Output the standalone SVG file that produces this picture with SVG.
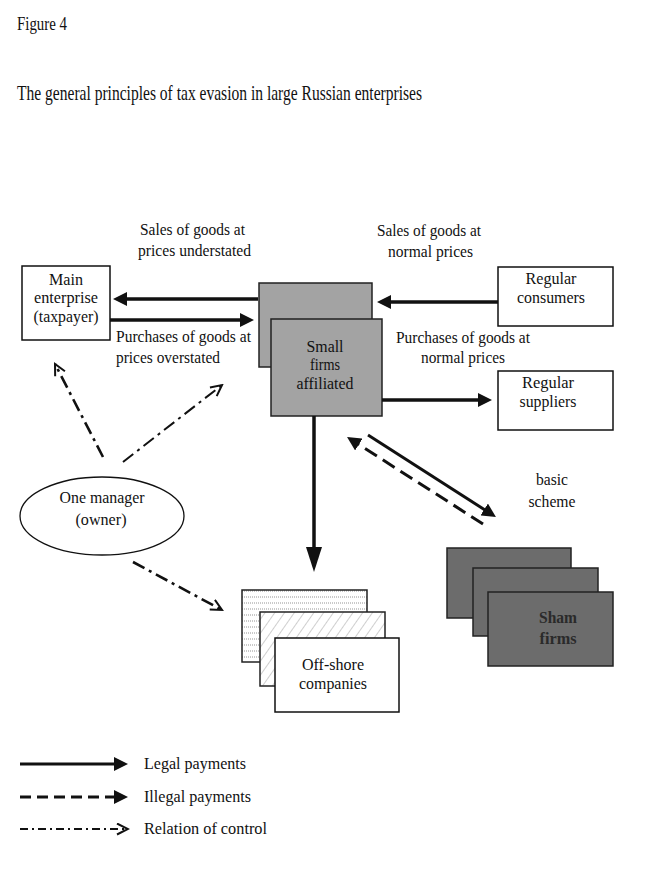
<svg xmlns="http://www.w3.org/2000/svg" width="662" height="873" viewBox="0 0 662 873">
<style>
text{font-family:"Liberation Serif","Times New Roman",serif;font-size:17px;fill:#111}
.c{text-anchor:middle}
.box{fill:#fff;stroke:#111;stroke-width:1.5}
.gray{fill:#a3a3a3;stroke:#222;stroke-width:1.5}
.dark{fill:#6c6c6c;stroke:#222;stroke-width:1.5}
.solid{stroke:#111;stroke-width:3.5;fill:none}
.dash{stroke:#111;stroke-width:3.5;fill:none;stroke-dasharray:14 7}
.dd{stroke:#111;stroke-width:2.6;fill:none;stroke-dasharray:13 5 3 5}
</style>
<defs>
<marker id="arr" markerUnits="userSpaceOnUse" markerWidth="14" markerHeight="14" refX="1" refY="7" orient="auto"><path d="M0,0 L14,7 L0,14 z" fill="#111"/></marker>
<marker id="arrBig" markerUnits="userSpaceOnUse" markerWidth="26" markerHeight="16" refX="1" refY="8" orient="auto"><path d="M0,0 L25,8 L0,16 z" fill="#111"/></marker>
<marker id="open" markerUnits="userSpaceOnUse" markerWidth="14" markerHeight="14" refX="12" refY="6.5" orient="auto"><path d="M1,1 L12,6.5 L1,12" fill="none" stroke="#111" stroke-width="2"/></marker>
<pattern id="hlines" patternUnits="userSpaceOnUse" width="6" height="6"><line x1="0" y1="3" x2="6" y2="3" stroke="#777" stroke-width="0.8" stroke-dasharray="1 1"/></pattern>
<pattern id="hatch" patternUnits="userSpaceOnUse" width="8" height="8" patternTransform="rotate(35)"><line x1="0" y1="0" x2="0" y2="8" stroke="#888" stroke-width="0.8"/></pattern>
</defs>
<rect width="662" height="873" fill="#fff"/>
<text x="17" y="30" style="font-size:19px" textLength="50" lengthAdjust="spacingAndGlyphs">Figure 4</text>
<text x="17" y="100" style="font-size:21px" textLength="405" lengthAdjust="spacingAndGlyphs">The general principles of tax evasion in large Russian enterprises</text>

<g id="main-enterprise">
<rect class="box" x="22" y="266" width="88" height="74"/>
<text class="c" x="66" y="285" textLength="34" lengthAdjust="spacingAndGlyphs">Main</text>
<text class="c" x="66" y="303" textLength="64" lengthAdjust="spacingAndGlyphs">enterprise</text>
<text class="c" x="66" y="322" textLength="65" lengthAdjust="spacingAndGlyphs">(taxpayer)</text>
</g>

<g id="small-firms">
<rect class="gray" x="259" y="283" width="113" height="84"/>
<rect class="gray" x="271" y="319" width="111" height="97"/>
<text class="c" x="325" y="352" textLength="37" lengthAdjust="spacingAndGlyphs">Small</text>
<text class="c" x="325" y="370" textLength="30" lengthAdjust="spacingAndGlyphs">firms</text>
<text class="c" x="325" y="389" textLength="57" lengthAdjust="spacingAndGlyphs">affiliated</text>
</g>

<g id="regular-consumers">
<rect class="box" x="498" y="267" width="115" height="59"/>
<text class="c" x="551" y="284" textLength="51" lengthAdjust="spacingAndGlyphs">Regular</text>
<text class="c" x="551" y="303" textLength="68" lengthAdjust="spacingAndGlyphs">consumers</text>
</g>

<g id="regular-suppliers">
<rect class="box" x="498" y="371" width="115" height="59"/>
<text class="c" x="548" y="388" textLength="52" lengthAdjust="spacingAndGlyphs">Regular</text>
<text class="c" x="548" y="407" textLength="57" lengthAdjust="spacingAndGlyphs">suppliers</text>
</g>

<g id="manager">
<ellipse cx="102" cy="516" rx="82" ry="39" fill="#fff" stroke="#111" stroke-width="1.3"/>
<text class="c" x="102" y="503" textLength="85" lengthAdjust="spacingAndGlyphs">One manager</text>
<text class="c" x="101" y="525" textLength="51" lengthAdjust="spacingAndGlyphs">(owner)</text>
</g>

<g id="offshore">
<rect x="242" y="590" width="125" height="72" fill="url(#hlines)" stroke="#222" stroke-width="1.5"/>
<rect x="260" y="612" width="125" height="74" fill="#fff" stroke="none"/>
<rect x="260" y="612" width="125" height="74" fill="url(#hatch)" stroke="#222" stroke-width="1.5"/>
<rect class="box" x="275" y="638" width="124" height="74"/>
<text class="c" x="333" y="670" style="font-size:16px" textLength="62" lengthAdjust="spacingAndGlyphs">Off-shore</text>
<text class="c" x="333" y="689" style="font-size:16px" textLength="68" lengthAdjust="spacingAndGlyphs">companies</text>
</g>

<g id="sham-firms">
<rect class="dark" x="447" y="548" width="124" height="70"/>
<rect class="dark" x="473" y="568" width="125" height="68"/>
<rect class="dark" x="488" y="592" width="125" height="74"/>
<text class="c" x="558" y="623" textLength="38" lengthAdjust="spacingAndGlyphs" style="font-weight:bold;fill:#2a2a2a">Sham</text>
<text class="c" x="558" y="644" textLength="37" lengthAdjust="spacingAndGlyphs" style="font-weight:bold;fill:#2a2a2a">firms</text>
</g>

<g id="labels">
<text x="140" y="235" textLength="105" lengthAdjust="spacingAndGlyphs">Sales of goods at</text>
<text x="138" y="256" textLength="113" lengthAdjust="spacingAndGlyphs">prices understated</text>
<text x="116" y="342" textLength="135" lengthAdjust="spacingAndGlyphs">Purchases of goods at</text>
<text x="116" y="363" textLength="104" lengthAdjust="spacingAndGlyphs">prices overstated</text>
<text x="377" y="236" textLength="104" lengthAdjust="spacingAndGlyphs">Sales of goods at</text>
<text x="388" y="257" textLength="85" lengthAdjust="spacingAndGlyphs">normal prices</text>
<text x="396" y="343" textLength="134" lengthAdjust="spacingAndGlyphs">Purchases of goods at</text>
<text x="421" y="363" textLength="84" lengthAdjust="spacingAndGlyphs">normal prices</text>
<text class="c" x="552" y="485" textLength="32" lengthAdjust="spacingAndGlyphs">basic</text>
<text class="c" x="552" y="507" textLength="47" lengthAdjust="spacingAndGlyphs">scheme</text>
</g>

<g id="connectors">
<line class="solid" x1="258" y1="299" x2="126" y2="299" marker-end="url(#arr)"/>
<line class="solid" x1="110" y1="320" x2="241" y2="320" marker-end="url(#arr)"/>
<line class="solid" x1="498" y1="302" x2="390" y2="302" marker-end="url(#arr)"/>
<line class="solid" x1="382" y1="400" x2="479" y2="400" marker-end="url(#arr)"/>
<line class="solid" x1="314" y1="416" x2="314" y2="548" marker-end="url(#arrBig)"/>
<line class="solid" style="stroke-width:3" x1="368" y1="435" x2="485" y2="510" marker-end="url(#arr)"/>
<line class="dash" style="stroke-width:3" x1="483" y1="524" x2="358" y2="444" marker-end="url(#arr)"/>
<line class="dd" x1="103" y1="457" x2="55" y2="364" marker-end="url(#open)"/>
<line class="dd" style="stroke-width:2" x1="123" y1="462" x2="222" y2="385" marker-end="url(#open)"/>
<line class="dd" x1="133" y1="562" x2="222" y2="610" marker-end="url(#open)"/>
</g>

<g id="legend">
<line class="solid" style="stroke-width:3" x1="20" y1="764" x2="115" y2="764" marker-end="url(#arr)"/>
<text x="144" y="769" textLength="102" lengthAdjust="spacingAndGlyphs">Legal payments</text>
<line class="dash" style="stroke-width:3;stroke-dasharray:11 6" x1="20" y1="797" x2="115" y2="797" marker-end="url(#arr)"/>
<text x="144" y="802" textLength="107" lengthAdjust="spacingAndGlyphs">Illegal payments</text>
<line class="dd" style="stroke-width:2;stroke-dasharray:8 4 2 4" x1="20" y1="829" x2="128" y2="829" marker-end="url(#open)"/>
<text x="144" y="834" textLength="123" lengthAdjust="spacingAndGlyphs">Relation of control</text>
</g>
</svg>
